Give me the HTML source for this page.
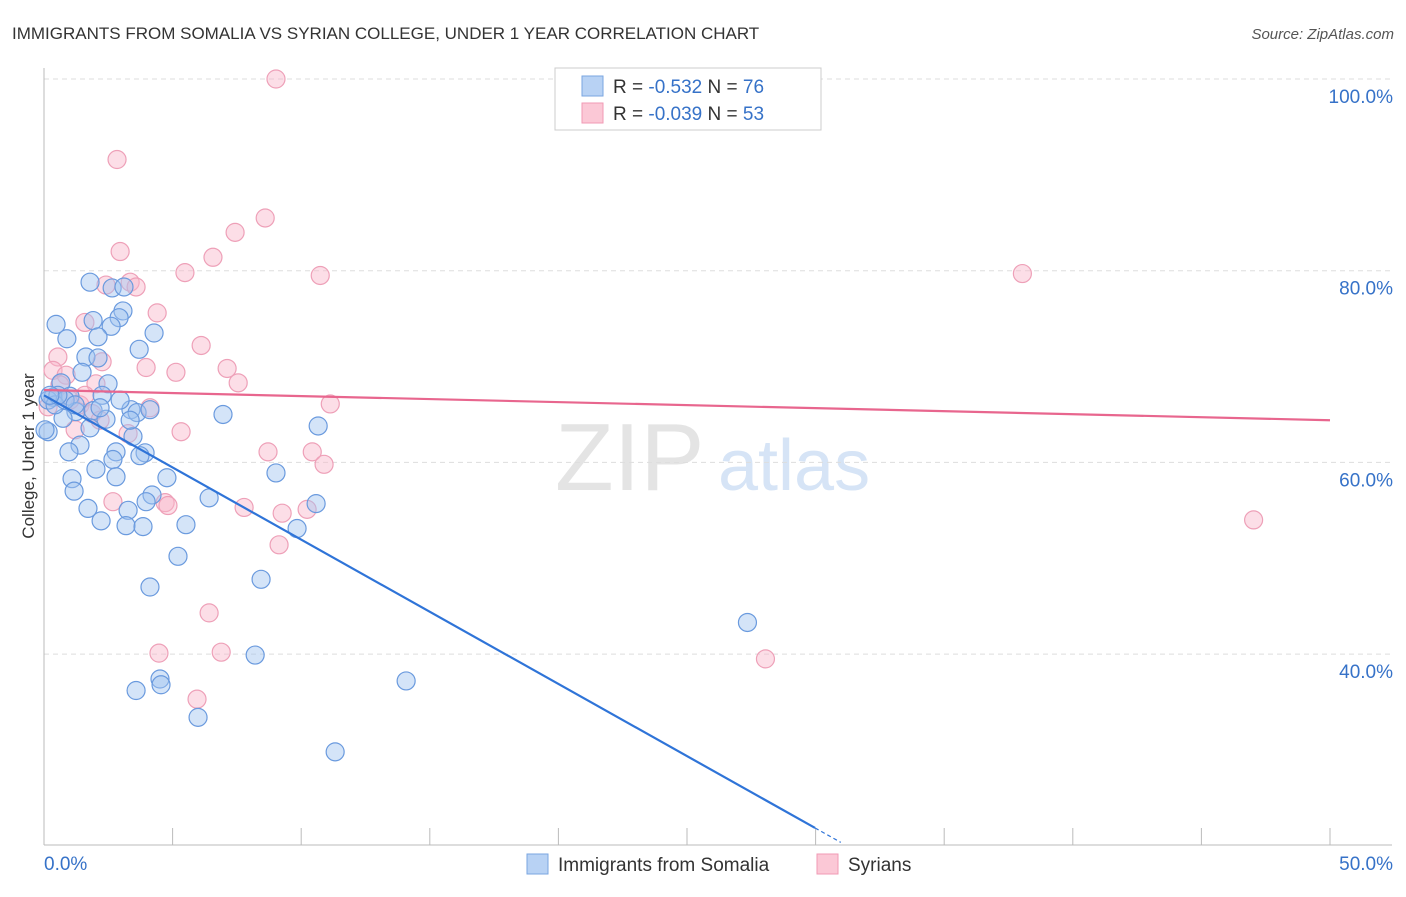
<!DOCTYPE html>
<html><head><meta charset="utf-8"><style>
body{margin:0;background:#fff;font-family:"Liberation Sans",sans-serif;}
svg text{font-family:"Liberation Sans",sans-serif;}
</style></head><body>
<svg id="chart" width="1406" height="892" viewBox="0 0 1406 892" xmlns="http://www.w3.org/2000/svg">
<text x="12" y="39" font-size="17" fill="#333">IMMIGRANTS FROM SOMALIA VS SYRIAN COLLEGE, UNDER 1 YEAR CORRELATION CHART</text>
<text x="1394" y="39" font-size="15" fill="#555" text-anchor="end" font-style="italic">Source: ZipAtlas.com</text>
<g>
<text x="555" y="490" font-size="96" fill="#e4e4e4" font-family="Liberation Serif, serif">ZIP</text>
<text x="718" y="490" font-size="72" fill="#d6e4f6">atlas</text>
</g>
<g id="grid"></g>
<g id="axes"></g>
<g id="pts"></g>
<g id="lines"></g>
<text transform="translate(34,456) rotate(-90)" font-size="17" fill="#333" text-anchor="middle">College, Under 1 year</text>
<g>
<rect x="555" y="68" width="266" height="62" fill="#fff" stroke="#ccc"/>
<rect x="582" y="76" width="21" height="20" fill="#b8d2f4" stroke="#7aa6e0"/>
<rect x="582" y="103" width="21" height="20" fill="#fbc8d6" stroke="#f09ab4"/>
<text x="613" y="93" font-size="19" fill="#333">R = <tspan fill="#3672c8">-0.532</tspan>   N = <tspan fill="#3672c8">76</tspan></text>
<text x="613" y="120" font-size="19" fill="#333">R = <tspan fill="#3672c8">-0.039</tspan>   N = <tspan fill="#3672c8">53</tspan></text>
</g>
<g>
<rect x="527" y="854" width="21" height="20" fill="#b8d2f4" stroke="#7aa6e0"/>
<text x="558" y="871" font-size="19" fill="#333">Immigrants from Somalia</text>
<rect x="817" y="854" width="21" height="20" fill="#fbc8d6" stroke="#f09ab4"/>
<text x="848" y="871" font-size="19" fill="#333">Syrians</text>
</g>
</svg>
<script>
const somaliaX=[1.79,2.65,3.11,3.07,0.47,2.92,2.61,1.91,0.89,2.10,4.28,3.70,1.63,2.10,1.48,2.49,0.66,0.35,0.16,1.01,2.26,1.24,0.74,1.91,3.38,3.62,4.12,2.41,6.96,10.66,0.16,1.40,3.46,2.80,2.68,3.93,0.97,2.02,3.73,4.78,9.02,1.09,2.80,1.17,6.42,4.20,3.97,1.71,3.27,10.58,2.22,3.19,3.85,5.52,9.84,5.21,8.44,4.12,27.35,8.21,14.08,4.51,4.55,3.58,5.99,11.32,0.04,0.43,0.82,1.21,0.54,2.96,1.79,2.18,3.35,0.23];
const somaliaY=[78.8,78.2,78.3,75.8,74.4,75.1,74.2,74.8,72.9,73.1,73.5,71.8,71.0,70.9,69.4,68.2,68.3,66.8,66.5,66.9,67.0,65.3,64.6,65.4,65.5,65.2,65.5,64.5,65.0,63.8,63.2,61.8,62.7,61.1,60.3,61.0,61.1,59.3,60.7,58.4,58.9,58.3,58.5,57.0,56.3,56.6,55.9,55.2,55.0,55.7,53.9,53.4,53.3,53.5,53.1,50.2,47.8,47.0,43.3,39.9,37.2,37.4,36.8,36.2,33.4,29.8,63.4,66.0,66.5,66.0,67.0,66.5,63.6,65.7,64.4,67.0];
const syrianX=[9.02,27.85,2.84,8.60,7.43,2.96,6.57,5.48,10.74,38.04,3.35,2.41,3.58,4.40,1.59,6.11,0.54,2.26,3.97,5.13,7.12,0.35,0.86,2.02,7.55,0.62,11.13,4.12,0.16,1.40,1.87,3.27,5.33,8.71,10.43,10.89,2.68,4.71,4.82,7.78,9.26,10.23,9.14,47.03,6.42,4.47,6.89,28.05,5.95,1.01,1.59,2.18,1.21];
const syrianY=[100,100,91.6,85.5,84.0,82.0,81.4,79.8,79.5,79.7,78.8,78.5,78.3,75.6,74.6,72.2,71.0,70.5,69.9,69.4,69.8,69.6,69.1,68.2,68.3,68.1,66.1,65.7,65.8,66.0,65.1,63.0,63.2,61.1,61.1,59.8,55.9,55.8,55.5,55.3,54.7,55.1,51.4,54.0,44.3,40.1,40.2,39.5,35.3,66.5,67.0,64.4,63.4];
const somaliaTrend=[67.0,21.86]; // y at x=0 and x=29.98
const somaliaTrendX=[0,29.98];
const syrianTrend=[67.55,64.4];
const syrianTrendX=[0,50];
const yTicks=[40,60,80,100];
const yTickLabels=["40.0%","60.0%","80.0%","100.0%"];
const xTicks=[0,5,10,15,20,25,30,35,40,45,50];

const NS="http://www.w3.org/2000/svg";
const sx=v=>44+v/50*1286;
const sy=v=>79+(100-v)/20*191.7;
function mk(tag,attrs,parent){const e=document.createElementNS(NS,tag);for(const k in attrs)e.setAttribute(k,attrs[k]);parent.appendChild(e);return e;}
const grid=document.getElementById('grid'),axes=document.getElementById('axes'),pts=document.getElementById('pts'),lines=document.getElementById('lines');
yTicks.forEach((t,i)=>{
  const l=mk('line',{x1:44,x2:1392,y1:sy(t),y2:sy(t),stroke:'#ddd','stroke-dasharray':'5,4'},grid);
  
  
  const tx=mk('text',{x:1393,y:sy(t)+24,'font-size':19,fill:'#3672c8','text-anchor':'end'},axes);
  tx.textContent=yTickLabels[i];
  
  
});
mk('line',{x1:44,x2:44,y1:68,y2:845,stroke:'#bbb'},axes);
mk('line',{x1:44,x2:1392,y1:845,y2:845,stroke:'#bbb'},axes);
xTicks.forEach(t=>{
  const l=mk('line',{x1:sx(t),x2:sx(t),y1:828,y2:845,stroke:'#bbb'},axes);
  
  
});
const x0=mk('text',{x:44,y:870,'font-size':19,fill:'#3672c8'},axes);x0.textContent='0.0%';


const x1=mk('text',{x:1393,y:870,'font-size':19,fill:'#3672c8','text-anchor':'end'},axes);x1.textContent='50.0%';


syrianX.forEach((x,i)=>{
  const c=mk('circle',{cx:sx(x),cy:sy(syrianY[i]),r:9,fill:'rgba(248,182,202,0.45)',stroke:'#eea0b8','stroke-width':1.2},pts);
  
  
});
somaliaX.forEach((x,i)=>{
  const c=mk('circle',{cx:sx(x),cy:sy(somaliaY[i]),r:9,fill:'rgba(160,196,240,0.45)',stroke:'#6a9ade','stroke-width':1.2},pts);
  
  
});
const bl=mk('line',{x1:sx(somaliaTrendX[0]),y1:sy(somaliaTrend[0]),x2:sx(somaliaTrendX[1]),y2:sy(somaliaTrend[1]),stroke:'#2f74d8','stroke-width':2.2},lines);


const slope=(somaliaTrend[1]-somaliaTrend[0])/(somaliaTrendX[1]-somaliaTrendX[0]);
const xe=somaliaTrendX[1]+1;
const bd=mk('line',{x1:sx(somaliaTrendX[1]),y1:sy(somaliaTrend[1]),x2:sx(xe),y2:sy(somaliaTrend[1]+slope),stroke:'#2f74d8','stroke-width':1.2,'stroke-dasharray':'4,3'},lines);


const pl=mk('line',{x1:sx(syrianTrendX[0]),y1:sy(syrianTrend[0]),x2:sx(syrianTrendX[1]),y2:sy(syrianTrend[1]),stroke:'#e8668e','stroke-width':2.2},lines);


</script>
</body></html>
